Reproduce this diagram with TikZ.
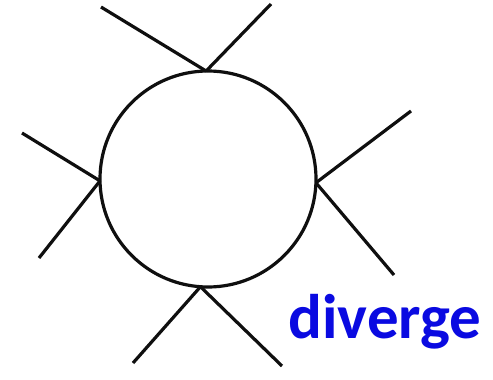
\documentclass[tikz,border=0pt]{standalone}
\usepackage{fontspec}
\usepackage{tikz}
\usetikzlibrary{positioning}
\newfontfamily\tagfont{Carlito}
\definecolor{LoopBlack}{RGB}{15, 15, 15}
\definecolor{TagBlue}{RGB}{10, 10, 225}

\begin{document}
\begin{tikzpicture}[x=1pt, y=-1pt,
    loopnode/.style={circle, draw=LoopBlack, line width=3.2pt, minimum size=216pt, inner sep=0pt, outer sep=0pt},
    leg/.style={draw=LoopBlack, line width=3.2pt},
    tagnode/.style={font=\tagfont\bfseries\fontsize{63}{65}\selectfont, text=TagBlue, inner sep=0pt}
]
\useasboundingbox (0,0) rectangle (493,380);

% Loop
\node[loopnode] (loop) at (208, 179) {};
\coordinate (vtop) at (loop.91);
\coordinate (vleft) at (loop.181);
\coordinate (vright) at (loop.358);
\coordinate (vbot) at (loop.266);

% External legs
\coordinate (tl) at (101, 7);
\coordinate (tr) at (271, 4);
\coordinate (lu) at (22, 133);
\coordinate (ld) at (39, 258);
\coordinate (ru) at (411, 111);
\coordinate (rd) at (394, 275);
\coordinate (bl) at (133, 363);
\coordinate (br) at (282, 366);

\draw[leg] (vtop) -- (tl);
\draw[leg] (vtop) -- (tr);
\draw[leg] (vleft) -- (lu);
\draw[leg] (vleft) -- (ld);
\draw[leg] (vright) -- (ru);
\draw[leg] (vright) -- (rd);
\draw[leg] (vbot) -- (bl);
\draw[leg] (vbot) -- (br);

% Label
\node[tagnode, anchor=base] (tag) at (385, 338) {diverge};

\end{tikzpicture}
\end{document}
